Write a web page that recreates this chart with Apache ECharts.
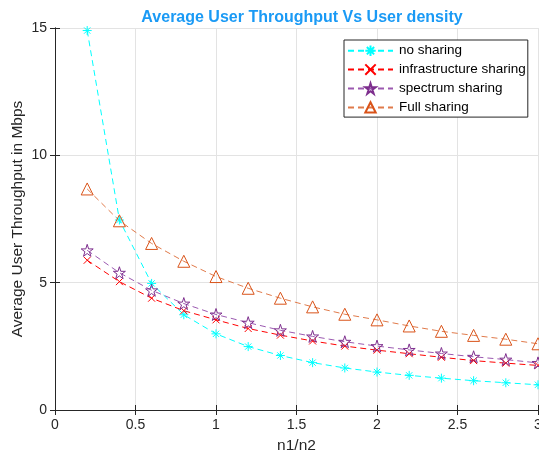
<!DOCTYPE html>
<html>
<head>
<meta charset="utf-8">
<script src="https://cdn.jsdelivr.net/npm/echarts@6/dist/echarts.min.js"></script>
<style>
  html, body { margin: 0; padding: 0; background: #fff; }
  #chart { width: 539px; height: 456px; }
</style>
</head>
<body>
<div id="chart"></div>
<script>
// Ratio n1/n2 sampled along the x axis
const ratio = [0.2, 0.4, 0.6, 0.8, 1.0, 1.2, 1.4, 1.6, 1.8, 2.0, 2.2, 2.4, 2.6, 2.8, 3.0];

// Average user throughput (Mbps) for each sharing scheme
const noSharing = [14.9, 7.46, 4.97, 3.74, 2.99, 2.49, 2.14, 1.86, 1.65, 1.49, 1.36, 1.25, 1.15, 1.07, 0.99];
const infraSharing = [5.88, 5.04, 4.39, 3.90, 3.54, 3.20, 2.94, 2.71, 2.51, 2.35, 2.21, 2.07, 1.94, 1.84, 1.75];
const spectrumSharing = [6.27, 5.39, 4.70, 4.18, 3.75, 3.43, 3.13, 2.89, 2.68, 2.51, 2.36, 2.22, 2.09, 1.98, 1.85];
const fullSharing = [8.68, 7.43, 6.54, 5.84, 5.24, 4.78, 4.39, 4.05, 3.76, 3.54, 3.30, 3.09, 2.93, 2.78, 2.60];

const seriesNames = ['no sharing', 'infrastructure sharing', 'spectrum sharing', 'Full sharing'];
const xTicks = [0, 0.5, 1, 1.5, 2, 2.5, 3];
const yTicks = [0, 5, 10, 15];

const FONT = '"Liberation Sans", Arial, Helvetica, sans-serif';
const TXT = '#262626';

// Marker shapes
const asteriskPath = 'path://M0,-10L0,10M-10,0L10,0M-7,-7L7,7M-7,7L7,-7';
const crossPath = 'path://M-10,-10L10,10M-10,10L10,-10';
const starPath = (function () {
  let d = '';
  for (let i = 0; i < 10; i++) {
    const r = i % 2 === 0 ? 10 : 3.82;
    const a = -Math.PI / 2 + i * Math.PI / 5;
    d += (i === 0 ? 'M' : 'L') + (r * Math.cos(a)).toFixed(3) + ',' + (r * Math.sin(a)).toFixed(3);
  }
  return 'path://' + d + 'Z';
})();

function pairs(ys) { return ratio.map((x, i) => [x, ys[i]]); }

function makeSeries(name, ys, color, symbol, size, lineColor) {
  return {
    name: name,
    type: 'line',
    data: pairs(ys),
    symbol: symbol,
    symbolSize: size,
    showAllSymbol: true,
    lineStyle: { color: lineColor || color, width: 1, type: [6, 4] },
    itemStyle: { color: 'none', borderColor: color, borderWidth: 1 },
    emphasis: { disabled: true },
    animation: false,
    z: 3
  };
}

const chart = echarts.init(document.getElementById('chart'), null, { renderer: 'canvas' });

chart.setOption({
  animation: false,
  title: {
    text: 'Average User Throughput Vs User density',
    left: 297, top: 5, textAlign: 'center',
    textStyle: { fontFamily: FONT, fontSize: 16, fontWeight: 'bold', color: '#1a9af5' }
  },
  grid: { left: 55, right: 1, top: 28, bottom: 46, containLabel: false, outerBoundsMode: 'none' },
  legend: {
    orient: 'vertical',
    left: 344, top: 40,
    padding: [3, 2, 2, 3],
    itemGap: 3.5,
    itemWidth: 45,
    itemHeight: 13,
    backgroundColor: '#fff',
    borderColor: '#262626',
    borderWidth: 1,
    borderRadius: 0,
    textStyle: { fontFamily: FONT, fontSize: 13.5, color: '#000', padding: [0, 0, 0, 1], lineHeight: 14 },
    data: seriesNames
  },
  xAxis: [{
    type: 'value', min: 0, max: 3, interval: 0.5,
    name: 'n1/n2', nameLocation: 'middle', nameGap: 28, nameMoveOverlap: false,
    nameTextStyle: { fontFamily: FONT, fontSize: 15.5, color: TXT },
    axisLine: { show: true, lineStyle: { color: TXT, width: 1 } },
    axisTick: { show: true, inside: true, length: 5, lineStyle: { color: TXT } },
    axisLabel: { fontFamily: FONT, fontSize: 14, color: TXT, margin: 8,
      formatter: v => (xTicks.indexOf(v) >= 0 ? String(v) : '') },
    splitLine: { show: true, lineStyle: { color: '#e3e3e3', width: 1 } }
  }, {
    type: 'value', min: 0, max: 3, interval: 0.5, position: 'top',
    axisLine: { show: true, lineStyle: { color: TXT, width: 1 } },
    axisTick: { show: true, inside: true, length: 5, lineStyle: { color: TXT } },
    axisLabel: { show: false }, splitLine: { show: false }
  }],
  yAxis: [{
    type: 'value', min: 0, max: 15, interval: 5,
    name: 'Average User Throughput in Mbps', nameLocation: 'middle', nameGap: 29, nameMoveOverlap: false,
    nameTextStyle: { fontFamily: FONT, fontSize: 15.5, color: TXT },
    axisLine: { show: true, lineStyle: { color: TXT, width: 1 } },
    axisTick: { show: true, inside: true, length: 5, lineStyle: { color: TXT } },
    axisLabel: { fontFamily: FONT, fontSize: 14, color: TXT, margin: 8,
      formatter: v => (yTicks.indexOf(v) >= 0 ? String(v) : '') },
    splitLine: { show: true, lineStyle: { color: '#e3e3e3', width: 1 } }
  }, {
    type: 'value', min: 0, max: 15, interval: 5, position: 'right',
    axisLine: { show: true, lineStyle: { color: TXT, width: 1 } },
    axisTick: { show: true, inside: true, length: 5, lineStyle: { color: TXT } },
    axisLabel: { show: false }, splitLine: { show: false }
  }],
  series: [
    makeSeries(seriesNames[0], noSharing, '#00ffff', asteriskPath, 9),
    makeSeries(seriesNames[1], infraSharing, '#ff0000', crossPath, 7),
    makeSeries(seriesNames[2], spectrumSharing, '#7e2f8e', starPath, 12, '#9b59b0'),
    makeSeries(seriesNames[3], fullSharing, '#d95319', 'triangle', 12, '#e07a4a')
  ]
});
</script>
</body>
</html>
